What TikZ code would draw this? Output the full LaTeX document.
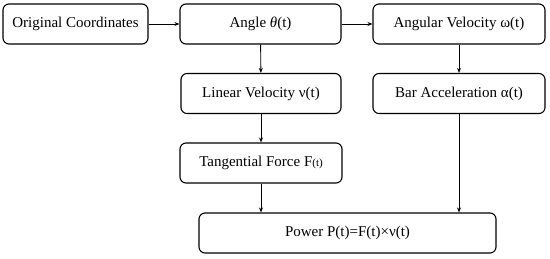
\documentclass[tikz,border=0pt]{standalone}
\usepackage{fontspec}
\setmainfont{Liberation Serif}
\usepackage{tikz}
\usetikzlibrary{arrows.meta, positioning}

\begin{document}
\begin{tikzpicture}[
				x=1pt, y=1pt,
				box/.style={draw=black, fill=white, rounded corners=6pt, line width=1.1pt,
					minimum height=40pt, inner sep=0pt,
					font=\fontsize{15}{18}\selectfont, text centered},
				>={Stealth[length=5pt, width=4pt]}
				]
				\useasboundingbox (0,0) rectangle (550,258);
				\node[box, minimum width=145pt] (orig)   at (75.5,234)  {Original Coordinates};
				\node[box, minimum width=161pt] (ang)    at (260.5,234) {Angle \textit{θ}(t)};
				\node[box, minimum width=172pt] (angvel) at (459,234)   {Angular Velocity ω(t)};
				\node[box, minimum width=160pt] (linvel) at (261,164.5) {Linear Velocity ν(t)};
				\node[box, minimum width=172pt] (baracc) at (459,164.5) {Bar Acceleration α(t)};
				\node[box, minimum width=162pt] (force)  at (261,95)    {Tangential Force F{\fontsize{11}{13}\selectfont(t)}};
				\node[box, minimum width=297pt] (power)  at (347.5,25)  {Power P(t)=F(t)×ν(t)};
				
				\draw[->, line width=0.9pt] (orig) -- (ang);
				\draw[->, line width=0.9pt] (ang) -- (angvel);
				\draw[->, line width=0.9pt] (ang) -- (linvel);
				\draw[->, line width=0.9pt] (angvel) -- (baracc);
				\draw[->, line width=0.9pt] (linvel) -- (force);
				\draw[->, line width=0.9pt] (force.south) -- (force.south |- power.north);
				\draw[->, line width=0.9pt] (baracc.south) -- (baracc.south |- power.north);
			\end{tikzpicture}
\end{document}
